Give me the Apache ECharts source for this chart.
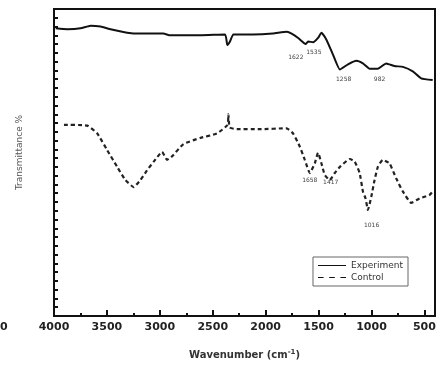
<!DOCTYPE html>
<html>
<head>
<meta charset="utf-8">
<script src="https://cdn.jsdelivr.net/npm/echarts@6/dist/echarts.min.js"></script>
<style>
  html, body { margin: 0; padding: 0; background: #fff; }
  #chart { width: 448px; height: 376px; }
</style>
</head>
<body>
<div id="chart"></div>
<script>
// FTIR spectra, y in arbitrary transmittance units
const expWn = [3984, 3874, 3749, 3654, 3560, 3466, 3309, 3184, 2967, 2902, 2619, 2384, 2362, 2337, 2305, 2120, 1932, 1800, 1755, 1693, 1622, 1599, 1552, 1505, 1473, 1426, 1364, 1299, 1222, 1143, 1081, 1018, 940, 861, 783, 704, 610, 531, 422];
const expT = [32.8, 32.7, 32.8, 33.1, 33.0, 32.7, 32.3, 32.2, 32.2, 32.0, 32.0, 32.1, 30.9, 31.3, 32.1, 32.1, 32.2, 32.4, 32.2, 31.7, 31.0, 31.3, 31.2, 31.7, 32.3, 31.5, 29.8, 28.1, 28.7, 29.1, 28.8, 28.2, 28.2, 28.8, 28.5, 28.4, 27.9, 27.1, 26.9];

const ctlWn = [3906, 3685, 3591, 3497, 3403, 3325, 3247, 3184, 3121, 3058, 2979, 2932, 2885, 2776, 2619, 2461, 2360, 2352, 2340, 2273, 2054, 1802, 1740, 1677, 1630, 1583, 1536, 1505, 1473, 1442, 1395, 1347, 1299, 1205, 1159, 1112, 1081, 1056, 1034, 1002, 971, 940, 893, 830, 767, 704, 625, 546, 452, 422];
const ctlT = [21.8, 21.7, 20.8, 18.9, 17.0, 15.5, 14.7, 15.5, 16.6, 17.6, 18.7, 17.8, 18.2, 19.6, 20.3, 20.8, 21.8, 23.0, 21.5, 21.3, 21.3, 21.4, 20.8, 19.3, 17.8, 16.3, 17.4, 18.6, 17.4, 16.1, 15.5, 16.3, 17.0, 17.9, 17.6, 16.3, 14.2, 13.4, 12.1, 13.6, 15.5, 17.0, 17.8, 17.4, 15.7, 14.2, 12.9, 13.4, 13.8, 14.2];

const xLabels = [4000, 3500, 3000, 2500, 2000, 1500, 1000, 500];
const xMinor = [3750, 3250, 2750, 2250, 1750, 1250, 750];

// peak annotations: [text, wavenumber, transmittance]
const expPeaks = [['1622', 1715, 29.5], ['1535', 1545, 30.1], ['1258', 1263, 27.0], ['982', 924, 27.0]];
const ctlPeaks = [['1658', 1583, 15.4], ['1417', 1385, 15.2], ['1016', 999, 10.3]];

const pair = (xs, ys) => xs.map((x, i) => [x, ys[i]]);
const peakMarks = list => ({
  symbol: 'circle',
  symbolSize: 0,
  silent: true,
  label: { show: true, position: 'inside', color: '#444', fontSize: 6, fontFamily: 'DejaVu Sans', formatter: p => p.name },
  data: list.map(p => ({ name: p[0], coord: [p[1], p[2]] }))
});

const chart = echarts.init(document.getElementById('chart'));
chart.setOption({
  animation: false,
  backgroundColor: '#fff',
  textStyle: { fontFamily: 'DejaVu Sans' },
  grid: { left: 54, right: 13, top: 9, bottom: 60, show: true, borderColor: '#111', borderWidth: 2 },
  legend: {
    right: 40,
    top: 257,
    orient: 'vertical',
    itemGap: 3,
    itemWidth: 28,
    itemHeight: 8,
    padding: [4, 5],
    borderColor: '#666',
    borderWidth: 1,
    textStyle: { fontSize: 9, color: '#333' },
    data: [
      { name: 'Experiment', icon: 'path://M0,4 L28,4 L28,5 L0,5 Z' },
      { name: 'Control', icon: 'path://M0,4 L5,4 L5,5 L0,5 Z M10,4 L15,4 L15,5 L10,5 Z M20,4 L25,4 L25,5 L20,5 Z' }
    ]
  },
  xAxis: [
    {
      type: 'value',
      inverse: true,
      min: 400,
      max: 4000,
      axisLine: { show: true, lineStyle: { color: '#111', width: 2 } },
      splitLine: { show: false },
      axisTick: { inside: true, length: 6, lineStyle: { color: '#111', width: 2 }, customValues: xLabels },
      axisLabel: { customValues: xLabels, formatter: v => String(v), fontSize: 11, fontWeight: 'bold', color: '#222', margin: 6 },
      name: 'Wavenumber (cm{sup|-1})',
      nameLocation: 'middle',
      nameGap: 33,
      nameTextStyle: {
        fontSize: 10, fontWeight: 'bold', color: '#333',
        rich: { sup: { fontSize: 7, fontWeight: 'bold', verticalAlign: 'top', padding: [0, 0, 6, 0] } }
      }
    },
    {
      type: 'value',
      inverse: true,
      min: 400,
      max: 4000,
      position: 'bottom',
      axisLine: { show: false },
      splitLine: { show: false },
      axisLabel: { show: false },
      axisTick: { inside: true, length: 3, lineStyle: { color: '#111', width: 2 }, customValues: xMinor }
    }
  ],
  yAxis: {
    type: 'value',
    min: 0,
    max: 35,
    interval: 1,
    axisLine: { show: true, lineStyle: { color: '#111', width: 2 } },
    splitLine: { show: false },
    axisTick: { inside: true, length: 4, lineStyle: { color: '#111', width: 2 } },
    axisLabel: { show: false },
    name: 'Transmittance %',
    nameLocation: 'middle',
    nameGap: 30,
    nameTextStyle: { fontSize: 9, color: '#555', padding: [0, 0, 0, 20] }
  },
  graphic: [
    { type: 'text', left: 0, top: 322, style: { text: '0', font: 'bold 11px DejaVu Sans', fill: '#222' } }
  ],
  series: [
    {
      name: 'Experiment',
      type: 'line',
      data: pair(expWn, expT),
      showSymbol: false,
      smooth: 0.15,
      color: '#111',
      lineStyle: { width: 2, color: '#111' },
      markPoint: peakMarks(expPeaks)
    },
    {
      name: 'Control',
      type: 'line',
      data: pair(ctlWn, ctlT),
      showSymbol: false,
      smooth: 0.15,
      color: '#111',
      lineStyle: { width: 2.2, color: '#222', type: [4, 3] },
      markPoint: peakMarks(ctlPeaks)
    }
  ]
});
</script>
</body>
</html>
